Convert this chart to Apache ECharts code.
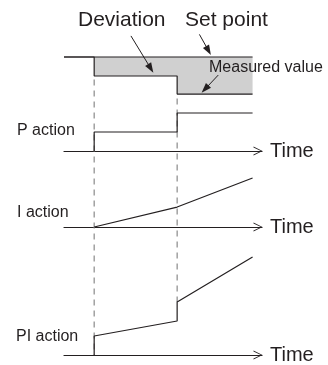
<!DOCTYPE html>
<html>
<head>
<meta charset="utf-8">
<script src="https://cdn.jsdelivr.net/npm/echarts@6/dist/echarts.min.js"></script>
<style>
  html, body { margin: 0; padding: 0; background: #ffffff; }
  #chart { width: 328px; height: 365px; }
</style>
</head>
<body>
<div id="chart"></div>
<script>
// time base shared by all panels: start, deviation step 1, step 2, end
const stepTimes = [0, 1.6, 6.0, 10]

// process panel
const setPointTime = [0, 10]
const setPointValue = [3, 3]
const measuredTime = [0, 1.6, 1.6, 6.0, 6.0, 10]
const measuredValue = [3, 3, 2, 2, 1.05, 1.05]

// controller outputs
const pTime = [1.6, 1.6, 6.0, 6.0, 10]
const pValue = [0, 1, 1, 2, 2]
const iTime = [1.6, 6.0, 10]
const iValue = [0, 1.05, 2.58]
const piTime = [1.6, 1.6, 6.0, 6.0, 10]
const piValue = [0, 1.0, 1.79, 2.79, 5.16]

// dashed guides (PI panel units)
const guideLeft = [14.5, 0]
const guideRight = [13.5, 2.79]

// annotation arrows [tailT, tailV, headT, headV] in process units
const deviationArrow = [3.55, 4.11, 4.6, 2.4]
const setPointArrow = [7.18, 4.19, 7.66, 3.34]
const measuredArrow = [8.18, 2.05, 7.48, 1.31]

const INK = '#231f20'
const FONT = 'Liberation Sans, Arial, sans-serif'

const zip = (xs, ys) => xs.map((x, i) => [x, ys[i]])

const arrowLine = (a) => [
  { coord: [a[0], a[1]], symbol: 'none' },
  { coord: [a[2], a[3]], symbol: 'triangle' }
]

const timeAxis = (gridIndex, show) => ({
  type: 'value',
  gridIndex,
  min: 0,
  max: 10.5,
  show,
  name: show ? 'Time' : '',
  nameLocation: 'end',
  nameGap: 8,
  nameTextStyle: { color: INK, fontSize: 20, fontFamily: FONT, verticalAlign: 'middle' },
  axisLine: {
    show,
    symbol: ['none', 'path://M0,10 L5,0 L10,10 L9,10 L5,1.8 L1,10 Z'],
    symbolSize: [10, 9],
    symbolOffset: [0, -4],
    lineStyle: { color: INK, width: 1.2 }
  },
  axisTick: { show: false },
  axisLabel: { show: false },
  splitLine: { show: false }
})

const levelAxis = (gridIndex, max) => ({
  type: 'value',
  gridIndex,
  min: 0,
  max,
  show: false,
  splitLine: { show: false }
})

const plainLine = (name, xIndex, data, extra = {}) => ({
  name,
  type: 'line',
  xAxisIndex: xIndex,
  yAxisIndex: xIndex,
  data,
  symbol: 'none',
  clip: false,
  silent: true,
  lineStyle: { color: INK, width: 1.2 },
  z: 3,
  ...extra
})

const label = (text, x, y, size) => ({
  type: 'text',
  x,
  y,
  z: 100,
  style: {
    text,
    fill: INK,
    font: `${size}px ${FONT}`,
    textVerticalAlign: 'middle',
    verticalAlign: 'middle'
  }
})

const chart = echarts.init(document.getElementById('chart'))

chart.setOption({
  animation: false,
  backgroundColor: '#ffffff',
  grid: [
    { left: 64, width: 198, top: 0, height: 114 },
    { left: 64, width: 198, top: 94, height: 57 },
    { left: 64, width: 198, top: 170, height: 57 },
    { left: 64, width: 198, top: 13, height: 342 }
  ],
  xAxis: [timeAxis(0, false), timeAxis(1, true), timeAxis(2, true), timeAxis(3, true)],
  yAxis: [levelAxis(0, 6), levelAxis(1, 3), levelAxis(2, 3), levelAxis(3, 18)],
  graphic: [
    label('Deviation', 78, 20, 21),
    label('Set point', 185, 20, 21),
    label('Measured value', 209, 68, 16),
    label('P action', 17, 131, 16),
    label('I action', 17, 213, 16),
    label('PI action', 16, 337, 16)
  ],
  series: [
    plainLine('guideLeft', 3, zip([stepTimes[1], stepTimes[1]], guideLeft), {
      lineStyle: { color: '#8a8a8a', width: 1.2, type: [6, 5] },
      z: 1
    }),
    plainLine('guideRight', 3, zip([stepTimes[2], stepTimes[2]], guideRight), {
      lineStyle: { color: '#8a8a8a', width: 1.2, type: [6, 5] },
      z: 1
    }),
    plainLine('measured', 0, zip(measuredTime, measuredValue), {
      areaStyle: { origin: 3, color: '#d0d0d0', opacity: 1 },
      z: 2
    }),
    plainLine('setPoint', 0, zip(setPointTime, setPointValue), {
      markLine: {
        silent: true,
        symbolSize: [7, 10],
        label: { show: false },
        lineStyle: { color: INK, width: 1, type: 'solid' },
        data: [arrowLine(deviationArrow), arrowLine(setPointArrow), arrowLine(measuredArrow)]
      }
    }),
    plainLine('P', 1, zip(pTime, pValue)),
    plainLine('I', 2, zip(iTime, iValue)),
    plainLine('PI', 3, zip(piTime, piValue))
  ]
})
</script>
</body>
</html>
